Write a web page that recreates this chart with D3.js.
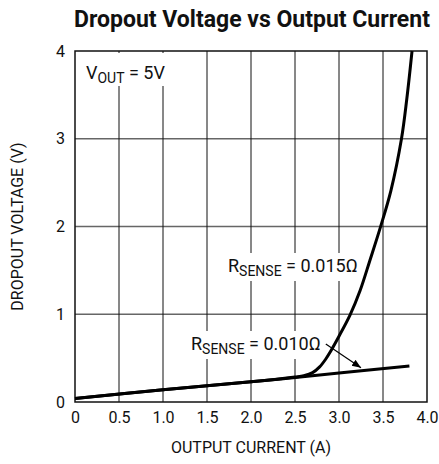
<!DOCTYPE html>
<html lang="en">
<head>
<meta charset="UTF-8">
<title>Dropout Voltage vs Output Current</title>
<script src="https://d3js.org/d3.v7.min.js"></script>
<style>
  body { margin: 0; background: #fff; }
  text { font-family: "Liberation Sans Narrow", "Roboto", sans-serif; fill: #111; }
</style>
</head>
<body>
<script>
// tick values / labels
var xTicks = [0, 0.5, 1.0, 1.5, 2.0, 2.5, 3.0, 3.5, 4.0];
var xTickLabels = ["0", "0.5", "1.0", "1.5", "2.0", "2.5", "3.0", "3.5", "4.0"];
var yTicks = [0, 1, 2, 3, 4];

// Rsense = 0.010 ohm
var lowCurrent = [0, 1.0, 2.0, 3.0, 3.8];
var lowVolt    = [0.04, 0.14, 0.23, 0.33, 0.41];

// Rsense = 0.015 ohm
var highCurrent = [0, 1.0, 2.0, 2.5, 2.6, 2.7, 2.78, 2.85, 2.9, 3.0, 3.125, 3.24, 3.35, 3.47, 3.59, 3.71, 3.77, 3.83];
var highVolt    = [0.04, 0.14, 0.23, 0.285, 0.30, 0.335, 0.40, 0.49, 0.57, 0.75, 0.99, 1.27, 1.61, 1.99, 2.41, 3.0, 3.45, 4.0];

var width = 439, height = 464;
var margin = {top: 51, right: 12, bottom: 62, left: 75};

var svg = d3.select("body").append("svg")
    .attr("width", width)
    .attr("height", height);

var x = d3.scaleLinear().domain([0, 4]).range([margin.left, width - margin.right]);
var y = d3.scaleLinear().domain([0, 4]).range([height - margin.bottom, margin.top]);

// title
svg.append("text")
    .attr("x", (x(0) + x(4)) / 2 + 1)
    .attr("y", 27)
    .attr("text-anchor", "middle")
    .style("font-size", "23px")
    .style("font-weight", "bold")
    .text("Dropout Voltage vs Output Current");

// grid
svg.append("g").selectAll("line")
    .data(yTicks.slice(1, -1))
    .enter().append("line")
    .attr("x1", x(0)).attr("x2", x(4))
    .attr("y1", d => y(d)).attr("y2", d => y(d))
    .attr("stroke", "#666").attr("stroke-width", 1.5);

svg.append("g").selectAll("line")
    .data(xTicks.slice(1, -1))
    .enter().append("line")
    .attr("x1", d => x(d)).attr("x2", d => x(d))
    .attr("y1", y(0)).attr("y2", y(4))
    .attr("stroke", "#111").attr("stroke-width", 1);

// white box behind Vout label
svg.append("rect")
    .attr("x", x(0) + 1).attr("y", y(4) + 2)
    .attr("width", 90).attr("height", 33)
    .attr("fill", "#fff");

// frame
svg.append("rect")
    .attr("x", x(0)).attr("y", y(4))
    .attr("width", x(4) - x(0)).attr("height", y(0) - y(4))
    .attr("fill", "none").attr("stroke", "#111").attr("stroke-width", 1.5);

// axes (labels only)
var xAxis = d3.axisBottom(x).tickValues(xTicks).tickFormat((d, i) => xTickLabels[i]).tickSize(0).tickPadding(10);
var gx = svg.append("g").attr("transform", "translate(0," + y(0) + ")").call(xAxis);
gx.select(".domain").remove();
gx.selectAll("text").style("font-size", "16px").style("font-family", null);

var yAxis = d3.axisLeft(y).tickValues(yTicks).tickFormat(d3.format("d")).tickSize(0).tickPadding(10);
var gy = svg.append("g").attr("transform", "translate(" + x(0) + ",0)").call(yAxis);
gy.select(".domain").remove();
gy.selectAll("text").style("font-size", "16px").style("font-family", null);

// axis titles
svg.append("text")
    .attr("x", (x(0) + x(4)) / 2)
    .attr("y", 453)
    .attr("text-anchor", "middle")
    .style("font-size", "16px")
    .text("OUTPUT CURRENT (A)");

svg.append("text")
    .attr("transform", "translate(23," + y(2) + ") rotate(-90)")
    .attr("text-anchor", "middle")
    .style("font-size", "16px")
    .text("DROPOUT VOLTAGE (V)");

// labels (with white background cutting the grid)
function subLabel(px, py, main, sub, rest, bg) {
    var g = svg.append("g");
    var t = g.append("text").attr("x", px).attr("y", py).style("font-size", "18px");
    t.append("tspan").text(main);
    t.append("tspan").attr("dy", 4).style("font-size", "14px").text(sub);
    t.append("tspan").attr("dy", -4).text(rest);
    if (bg) {
        var b = t.node().getBBox();
        g.insert("rect", "text")
            .attr("x", b.x - 3).attr("y", b.y - 2)
            .attr("width", b.width + 6).attr("height", b.height + 4)
            .attr("fill", "#fff");
    }
    return t;
}
subLabel(86, 79, "V", "OUT", " = 5V", false);
subLabel(228, 272, "R", "SENSE", " = 0.015\u03A9", true);
subLabel(191, 350, "R", "SENSE", " = 0.010\u03A9", true);

// curves
var line = d3.line()
    .x(d => x(d[0]))
    .y(d => y(d[1]))
    .curve(d3.curveCatmullRom.alpha(0.5));

svg.append("path")
    .datum(d3.zip(lowCurrent, lowVolt))
    .attr("d", line)
    .attr("fill", "none").attr("stroke", "#000").attr("stroke-width", 3);

svg.append("path")
    .datum(d3.zip(highCurrent, highVolt))
    .attr("d", line)
    .attr("fill", "none").attr("stroke", "#000").attr("stroke-width", 3);

// arrow to the 0.010 line
svg.append("defs").append("marker")
    .attr("id", "arr")
    .attr("viewBox", "0 0 10 10")
    .attr("refX", 10).attr("refY", 5)
    .attr("markerWidth", 9).attr("markerHeight", 9)
    .attr("markerUnits", "userSpaceOnUse")
    .attr("orient", "auto")
    .append("path").attr("d", "M0,1 L10,5 L0,9 Z").attr("fill", "#000");

svg.append("line")
    .attr("x1", x(2.85)).attr("y1", y(0.66))
    .attr("x2", x(3.25)).attr("y2", y(0.39))
    .attr("stroke", "#000").attr("stroke-width", 1.2)
    .attr("marker-end", "url(#arr)");
</script>
</body>
</html>
